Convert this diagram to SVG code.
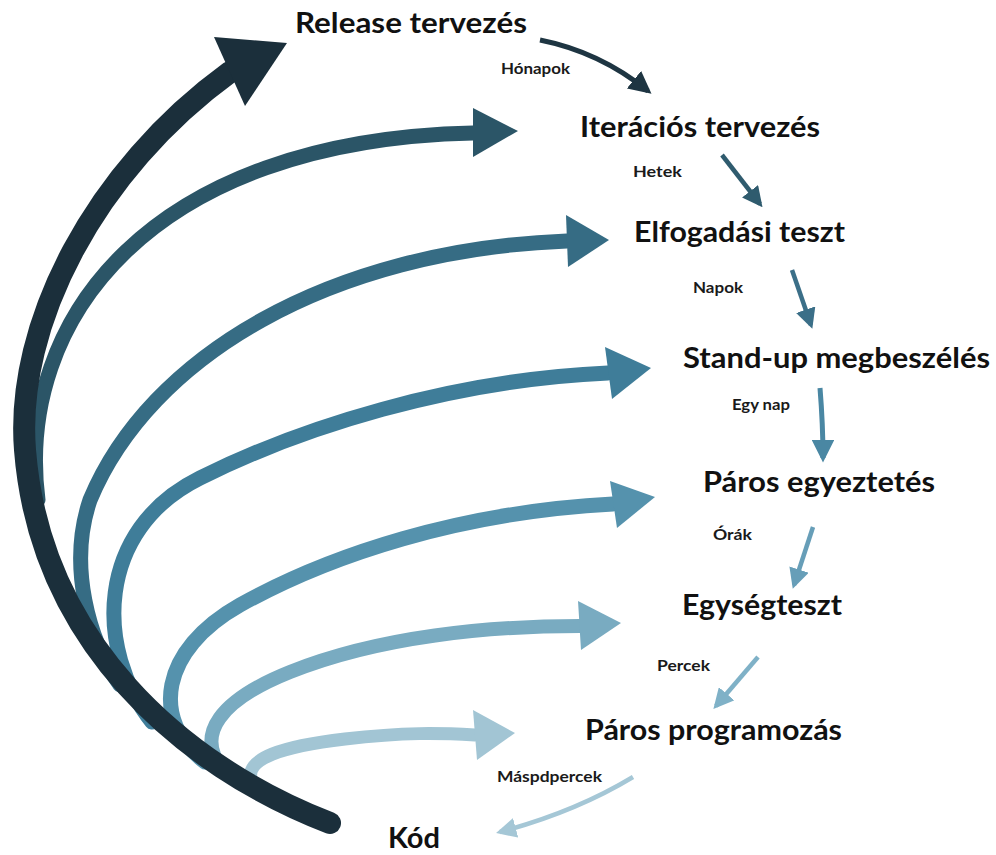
<svg xmlns="http://www.w3.org/2000/svg" width="996" height="855" viewBox="0 0 996 855">
<style>
  .big{font-family:Lato,"Open Sans","Liberation Sans",sans-serif;font-weight:bold;font-size:28px;fill:#111}
  .small{font-family:Lato,"Open Sans","Liberation Sans",sans-serif;font-weight:bold;font-size:15px;fill:#1a1a1a}
  .arc{fill:none;stroke-linecap:round}
  .sa{fill:none;stroke-linecap:butt}
</style>
<defs>
  <marker id="m1" viewBox="0 0 10 10" refX="8" refY="5" markerWidth="4.5" markerHeight="4.5" orient="auto"><path d="M0,0 L10,5 L0,10 z" fill="#1e3542"/></marker>
  <marker id="m2" viewBox="0 0 10 10" refX="8" refY="5" markerWidth="4.5" markerHeight="4.5" orient="auto"><path d="M0,0 L10,5 L0,10 z" fill="#2f5b6e"/></marker>
  <marker id="m3" viewBox="0 0 10 10" refX="8" refY="5" markerWidth="4.5" markerHeight="4.5" orient="auto"><path d="M0,0 L10,5 L0,10 z" fill="#3b6f88"/></marker>
  <marker id="m4" viewBox="0 0 10 10" refX="8" refY="5" markerWidth="4.5" markerHeight="4.5" orient="auto"><path d="M0,0 L10,5 L0,10 z" fill="#4a87a3"/></marker>
  <marker id="m5" viewBox="0 0 10 10" refX="8" refY="5" markerWidth="4.5" markerHeight="4.5" orient="auto"><path d="M0,0 L10,5 L0,10 z" fill="#679eb8"/></marker>
  <marker id="m6" viewBox="0 0 10 10" refX="8" refY="5" markerWidth="4.5" markerHeight="4.5" orient="auto"><path d="M0,0 L10,5 L0,10 z" fill="#7fb1c7"/></marker>
  <marker id="m7" viewBox="0 0 10 10" refX="8" refY="5" markerWidth="4.5" markerHeight="4.5" orient="auto"><path d="M0,0 L10,5 L0,10 z" fill="#a5c7d6"/></marker>
</defs>
<rect width="996" height="855" fill="#ffffff"/>
<g id="connectors">
  <g id="arc7">
    <path class="arc" d="M252,782 C242,758 285,746 345,739 C405,732 440,733 475,735" stroke="#a2c5d4" stroke-width="13"/>
    <polygon points="473,710 515,733 477,760" fill="#a2c5d4"/>
  </g>
  <g id="arc6">
    <path class="arc" d="M222,768 C195,735 220,700 290,672 C380,636 490,626 580,626" stroke="#79abc1" stroke-width="14"/>
    <polygon points="578,601 621,623 581,650" fill="#79abc1"/>
  </g>
  <g id="arc5">
    <path class="arc" d="M205,762 C150,720 160,650 240,605 C330,555 460,512 613,504" stroke="#5592ad" stroke-width="15"/>
    <polygon points="610,481 655,497 617,528" fill="#5592ad"/>
  </g>
  <g id="arc4">
    <path class="arc" d="M152,722 C95,650 95,530 200,478 C300,428 450,380 608,373" stroke="#3f7d99" stroke-width="15"/>
    <polygon points="605,347 651,368 612,399" fill="#3f7d99"/>
  </g>
  <g id="arc3">
    <path class="arc" d="M120,685 C88,640 68,565 90,500 C150,356 330,250 567,241" stroke="#366c84" stroke-width="15"/>
    <polygon points="566,215 609,240 568,267" fill="#366c84"/>
  </g>
  <g id="arc2">
    <path class="arc" d="M38,500 C15,320 150,140 473,133" stroke="#2b5567" stroke-width="15"/>
    <polygon points="473,108 518,131 473,157" fill="#2b5567"/>
  </g>
  <g id="arc1">
    <path class="arc" d="M330,823 C180,765 40,640 25,450 C15,324 95,170 230,72" stroke="#1b2f3b" stroke-width="22"/>
    <polygon points="214,37 287,43 245,106" fill="#1b2f3b"/>
  </g>
  <path class="sa" d="M540,40 Q600,52 648,91" stroke="#1e3542" stroke-width="5" marker-end="url(#m1)"/>
  <path class="sa" d="M722,155 L760,204" stroke="#2f5b6e" stroke-width="4.5" marker-end="url(#m2)"/>
  <path class="sa" d="M792,270 L811,325" stroke="#3b6f88" stroke-width="4.5" marker-end="url(#m3)"/>
  <path class="sa" d="M820,388 Q823,425 823,458" stroke="#4a87a3" stroke-width="5" marker-end="url(#m4)"/>
  <path class="sa" d="M813,527 L794,585" stroke="#679eb8" stroke-width="4.5" marker-end="url(#m5)"/>
  <path class="sa" d="M758,657 L716,706" stroke="#7fb1c7" stroke-width="4.5" marker-end="url(#m6)"/>
  <path class="sa" d="M633,777 Q575,812 500,832" stroke="#a5c7d6" stroke-width="4.5" marker-end="url(#m7)"/>
</g>
<g id="n-release"><text class="big" x="295" y="33" textLength="232" lengthAdjust="spacingAndGlyphs">Release tervezés</text></g>
<g id="l-honapok"><text class="small" x="501" y="74" textLength="69" lengthAdjust="spacingAndGlyphs">Hónapok</text></g>
<g id="n-iteracios"><text class="big" x="580" y="137" textLength="240" lengthAdjust="spacingAndGlyphs">Iterációs tervezés</text></g>
<g id="l-hetek"><text class="small" x="633" y="177" textLength="49" lengthAdjust="spacingAndGlyphs">Hetek</text></g>
<g id="n-elfogadasi"><text class="big" x="634" y="242" textLength="211" lengthAdjust="spacingAndGlyphs">Elfogadási teszt</text></g>
<g id="l-napok"><text class="small" x="693" y="293" textLength="50" lengthAdjust="spacingAndGlyphs">Napok</text></g>
<g id="n-standup"><text class="big" x="683" y="368" textLength="307" lengthAdjust="spacingAndGlyphs">Stand-up megbeszélés</text></g>
<g id="l-egynap"><text class="small" x="732" y="410" textLength="58" lengthAdjust="spacingAndGlyphs">Egy nap</text></g>
<g id="n-parosegy"><text class="big" x="703" y="492" textLength="232" lengthAdjust="spacingAndGlyphs">Páros egyeztetés</text></g>
<g id="l-orak"><text class="small" x="713" y="540" textLength="39" lengthAdjust="spacingAndGlyphs">Órák</text></g>
<g id="n-egyseg"><text class="big" x="682" y="615" textLength="160" lengthAdjust="spacingAndGlyphs">Egységteszt</text></g>
<g id="l-percek"><text class="small" x="657" y="671" textLength="53" lengthAdjust="spacingAndGlyphs">Percek</text></g>
<g id="n-parosprog"><text class="big" x="585" y="740" textLength="257" lengthAdjust="spacingAndGlyphs">Páros programozás</text></g>
<g id="l-maspd"><text class="small" x="497" y="782" textLength="105" lengthAdjust="spacingAndGlyphs">Máspdpercek</text></g>
<g id="n-kod"><text class="big" x="388" y="848" textLength="52" lengthAdjust="spacingAndGlyphs">Kód</text></g>
</svg>
